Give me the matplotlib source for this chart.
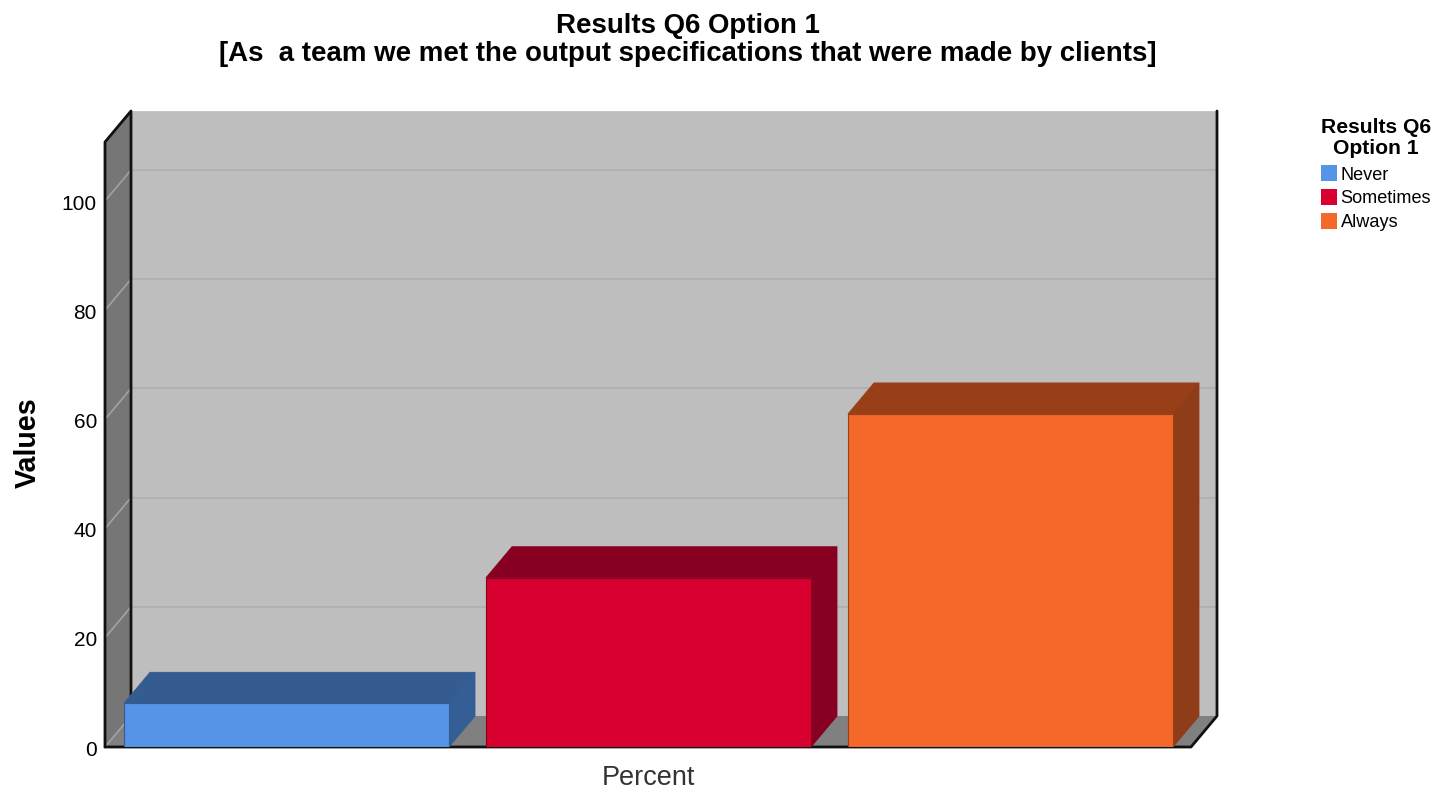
import matplotlib
matplotlib.use("Agg")
import matplotlib.pyplot as plt
from matplotlib.patches import Patch, Polygon
from matplotlib.transforms import ScaledTranslation

plt.rcParams["font.family"] = ["Liberation Sans", "DejaVu Sans"]

# Survey results
categories = ["Never", "Sometimes", "Always"]
values = [8, 31, 61]
y_ticks = [0, 20, 40, 60, 80, 100]
title = "Results Q6 Option 1\n[As  a team we met the output specifications that were made by clients]"

# Colours for each category: front, top and side faces
front_colors = ["#5594e6", "#d7002f", "#f4682a"]
top_colors = ["#345c90", "#870021", "#993f18"]
side_colors = ["#335f96", "#870021", "#8f3c18"]

W, H = 1434, 789
fig = plt.figure(figsize=(W / 100, H / 100), dpi=100, facecolor="white")

# Axes box in pixels
left, right, top, bottom = 105, 1217, 111, 747
ax = fig.add_axes([left / W, 1 - bottom / H, (right - left) / W, (bottom - top) / H])

# Scale: one category step and the extrusion depth, both in data units
px_per_x = 362
px_per_y = 5.46
depth_x = 26 / px_per_x
depth_y = 31 / px_per_y
bar_width = 325 / px_per_x
x_min = -181.5 / px_per_x
x_max = x_min + (right - left) / px_per_x
y_top = (bottom - top) / px_per_y
ax.set_xlim(x_min, x_max)
ax.set_ylim(0, y_top)
for spine in ax.spines.values():
    spine.set_visible(False)
ax.patch.set_alpha(0)

front_right = x_max - depth_x
back_left = x_min + depth_x
wall_top = y_top - depth_y

# Back wall, floor and left wall of the 3D box
ax.add_patch(Polygon([(back_left, depth_y), (x_max, depth_y), (x_max, y_top), (back_left, y_top)],
                     fc="#bebebe", ec="none", zorder=1))
ax.add_patch(Polygon([(x_min, 0), (front_right, 0), (x_max, depth_y), (back_left, depth_y)],
                     fc="#808080", ec="none", zorder=1))
ax.add_patch(Polygon([(x_min, 0), (back_left, depth_y), (back_left, y_top), (x_min, wall_top)],
                     fc="#767676", ec="none", zorder=1))

# Gridlines run across the left wall and along the back wall
for v in y_ticks:
    ax.plot([x_min, back_left], [v, v + depth_y], color="#a2a2a2", lw=1.2, zorder=2)
    if v > 0:
        ax.plot([back_left, x_max], [v + depth_y, v + depth_y], color="#b0b0b0", lw=1.4, zorder=2)
ax.plot([back_left, x_max], [y_top, y_top], color="#c8c8c8", lw=1.2, zorder=2)

# Box outline
outline = dict(color="#111111", lw=2, zorder=3, solid_capstyle="round", clip_on=False)
ax.plot([x_min, x_min, back_left, back_left], [0, wall_top, y_top, depth_y], **outline)
ax.plot([x_max, x_max, front_right, x_min], [y_top, depth_y, 0, 0], **outline)

# Extruded bars
positions = list(range(len(categories)))
for i, val in enumerate(values):
    x0 = positions[i] - bar_width / 2
    x1 = positions[i] + bar_width / 2
    ax.add_patch(Polygon([(x0, val), (x1, val), (x1 + depth_x, val + depth_y), (x0 + depth_x, val + depth_y)],
                         fc=top_colors[i], ec=top_colors[i], lw=0.6, zorder=4))
    ax.add_patch(Polygon([(x1, 0), (x1 + depth_x, depth_y), (x1 + depth_x, val + depth_y), (x1, val)],
                         fc=side_colors[i], ec=side_colors[i], lw=0.6, zorder=4))
ax.bar(positions, values, width=bar_width, color=front_colors, edgecolor=top_colors, linewidth=0.8, zorder=5)

# Axis text
ax.set_yticks(y_ticks)
ax.set_xticks([1])
ax.set_xticklabels(["Percent"], fontsize=19.5, color="#333333")
ax.tick_params(axis="y", length=0, pad=5.8, labelsize=15)
ax.tick_params(axis="x", length=0, pad=13)
nudge = ScaledTranslation(0, -1 / 100, fig.dpi_scale_trans)
for label in ax.get_yticklabels():
    label.set_transform(label.get_transform() + nudge)
fig.text(28 / W, 1 - 443 / H, "Values", rotation=90, fontsize=20.6, fontweight="bold", ha="center", va="center")

fig.text(688 / W, 1 - 40 / H, title, fontsize=19.9, fontweight="bold", ha="center", va="center",
         linespacing=1.14)

# Legend
handles = [Patch(fc=c, ec="none") for c in front_colors]
legend = fig.legend(handles, categories, title="Results Q6\nOption 1", loc="upper left",
                    bbox_to_anchor=(1321 / W, 1 - 118 / H), frameon=False, borderpad=0, borderaxespad=0,
                    fontsize=13.1, handlelength=0.88, handleheight=1.0, handletextpad=0.2,
                    labelspacing=0.3, title_fontproperties={"size": 15.2, "weight": "bold"})
legend.get_title().set_multialignment("center")
legend.get_title().set_linespacing(1.15)
legend._legend_box.align = "center"
legend._legend_box.sep = 5

fig.savefig("out.png", dpi=100)
